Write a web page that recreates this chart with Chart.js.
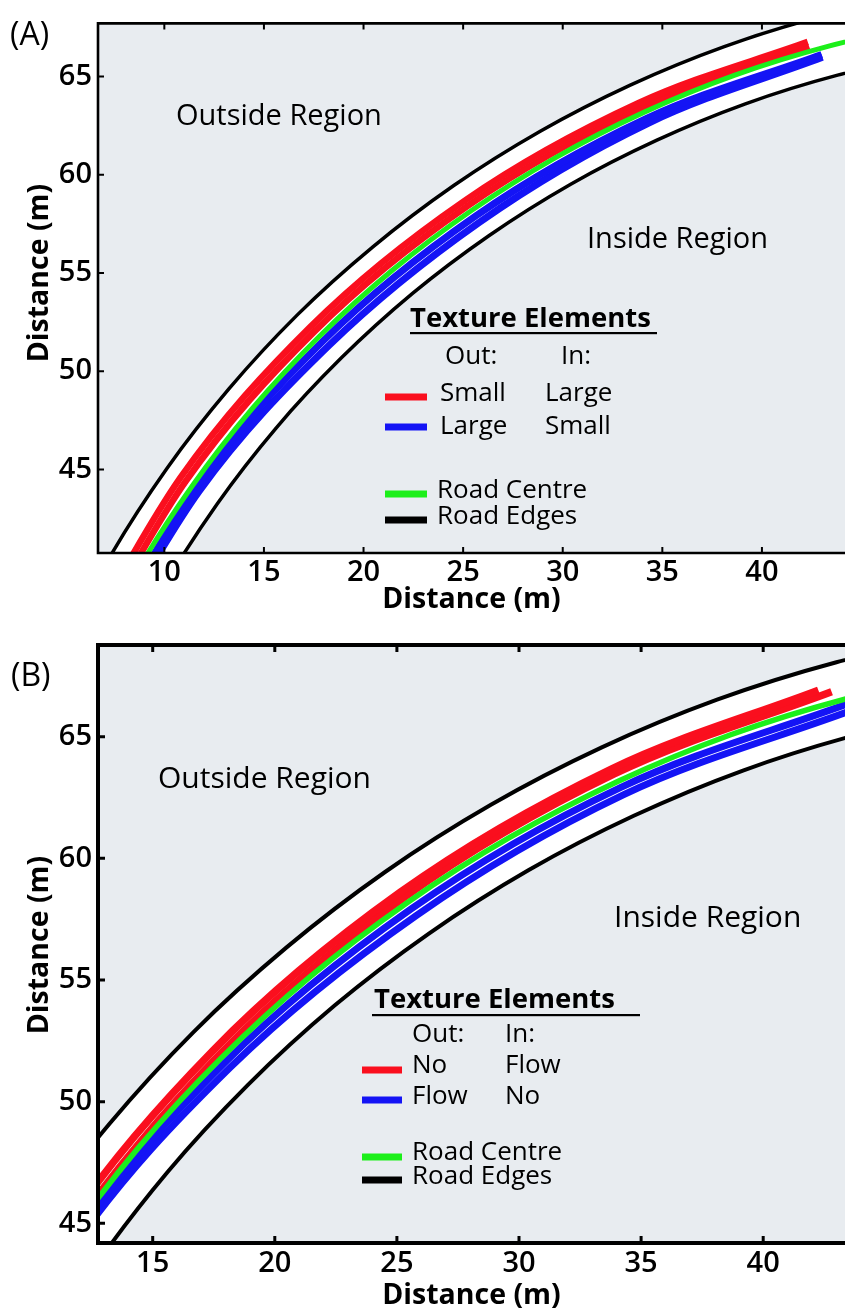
<!DOCTYPE html>
<html>
<head>
<meta charset="utf-8">
<title>Road trajectories</title>
<script src="https://cdn.jsdelivr.net/npm/chart.js@4.4.0/dist/chart.umd.min.js"></script>
<style>
  html, body { margin: 0; padding: 0; background: #ffffff; }
  body { width: 845px; height: 1312px; position: relative; overflow: hidden; }
  .panel { position: absolute; left: 0; width: 845px; }
  #panelA { top: 0; height: 620px; }
  #panelB { top: 620px; height: 692px; }
  canvas { display: block; }
</style>
</head>
<body>
<div class="panel" id="panelA"><canvas id="chartA" width="845" height="620"></canvas></div>
<div class="panel" id="panelB"><canvas id="chartB" width="845" height="692"></canvas></div>
<script>
// ---- Road geometry (m), shared by both panels ----
const roadOuter  = [[5.01,36.19],[7.37,40.73],[10.12,45.04],[13.24,49.10],[16.69,52.88],[20.47,56.33],[24.53,59.45],[28.85,62.20],[33.39,64.56],[38.11,66.52],[43.00,68.06],[47.99,69.17]];
const roadInner  = [[7.82,34.88],[10.06,39.18],[12.66,43.26],[15.61,47.11],[18.89,50.68],[22.46,53.96],[26.31,56.91],[30.40,59.52],[34.70,61.75],[39.17,63.61],[43.80,65.07],[48.53,66.12]];
const roadCentre = [[6.41,35.53],[8.71,39.95],[11.39,44.15],[14.42,48.11],[17.79,51.78],[21.46,55.15],[25.42,58.18],[29.62,60.86],[34.04,63.16],[38.64,65.07],[43.40,66.56],[48.26,67.64]];

// ---- Panel A: texture element size ----
const smallOutA1 = [[5.70,35.86],[10.80,44.57],[17.32,52.25],[25.07,58.67],[33.81,63.65],[42.30,66.76]];
const smallOutA2 = [[5.99,35.72],[11.06,44.38],[17.54,52.03],[25.25,58.43],[33.93,63.39],[42.38,66.50]];
const largeOutA1 = [[6.54,35.47],[11.55,44.04],[18.00,51.57],[25.62,57.89],[34.18,62.85],[43.00,66.12]];
const largeOutA2 = [[6.65,35.42],[11.75,43.90],[18.26,51.31],[25.83,57.59],[34.29,62.62],[43.04,65.98]];

// ---- Panel B: texture element flow ----
const noFlowOutB1 = [[6.10,35.67],[11.08,44.37],[17.47,52.10],[25.13,58.60],[33.80,63.68],[42.26,66.91]];
const noFlowOutB2 = [[6.39,35.54],[11.35,44.18],[17.69,51.88],[25.28,58.38],[33.90,63.47],[42.80,66.85]];
const flowOutB1   = [[6.52,35.48],[11.51,44.07],[17.96,51.61],[25.60,57.93],[34.15,62.91],[43.45,66.35]];
const flowOutB2   = [[6.68,35.40],[11.69,43.95],[18.17,51.40],[25.79,57.65],[34.29,62.62],[43.53,66.05]];

// ---- Axis ranges and ticks ----
const xRangeA = [6.67, 44.17];
const yRangeA = [40.75, 67.70];
const xRangeB = [12.76, 43.35];
const yRangeB = [44.19, 68.77];
const xTicksA = [10, 15, 20, 25, 30, 35, 40];
const yTicksA = [45, 50, 55, 60, 65];
const xTicksB = [15, 20, 25, 30, 35, 40];
const yTicksB = [45, 50, 55, 60, 65];

// ---- Legend / annotation text ----
const legendTitle = 'Texture Elements';
const legendHeads = ['Out:', 'In:'];
const legendOutA = ['Small', 'Large'];
const legendInA  = ['Large', 'Small'];
const legendOutB = ['No', 'Flow'];
const legendInB  = ['Flow', 'No'];
const roadLabels = ['Road Centre', 'Road Edges'];
const regionLabels = ['Outside Region', 'Inside Region'];
const axisTitle = 'Distance (m)';

const COLORS = { red: '#fa0f1e', blue: '#1414f5', green: '#1cef1a', black: '#000000', road: '#ffffff', plot: '#e8ecf0' };
const FONT = '"Open Sans", "Noto Sans", sans-serif';

const pts = arr => arr.map(([x, y]) => ({ x, y }));

function lineSet(data, color, width, order) {
  return {
    data: pts(data), borderColor: color, borderWidth: width, backgroundColor: color,
    pointRadius: 0, pointHoverRadius: 0, fill: false, cubicInterpolationMode: 'monotone',
    clip: 0, order: order
  };
}

function roadSurface(order) {
  return {
    data: pts(roadOuter.concat(roadInner.slice().reverse())),
    borderWidth: 0, borderColor: 'rgba(0,0,0,0)', backgroundColor: COLORS.road,
    fill: 'shape', tension: 0, pointRadius: 0, pointHoverRadius: 0, clip: 0, order: order
  };
}

// plot background
const plotBackground = {
  id: 'plotBackground',
  beforeDatasetsDraw(chart) {
    const { ctx, chartArea: a } = chart;
    ctx.save();
    ctx.fillStyle = COLORS.plot;
    ctx.fillRect(a.left, a.top, a.right - a.left, a.bottom - a.top);
    ctx.restore();
  }
};

// axis frame (left, bottom, top) with inward tick marks
const axisFrame = {
  id: 'axisFrame',
  afterDatasetsDraw(chart, args, o) {
    const { ctx, chartArea: a, scales: { x, y } } = chart;
    ctx.save();
    ctx.strokeStyle = '#000';
    ctx.lineWidth = o.width;
    ctx.lineJoin = 'miter';
    ctx.beginPath();
    ctx.moveTo(a.right + 10, a.top);
    ctx.lineTo(a.left, a.top);
    ctx.lineTo(a.left, a.bottom);
    ctx.lineTo(a.right + 10, a.bottom);
    ctx.stroke();
    ctx.lineWidth = o.tickWidth;
    ctx.beginPath();
    x.ticks.forEach(t => {
      const px = x.getPixelForValue(t.value);
      ctx.moveTo(px, a.bottom); ctx.lineTo(px, a.bottom - o.tickLen);
      ctx.moveTo(px, a.top); ctx.lineTo(px, a.top + o.tickLen);
    });
    y.ticks.forEach(t => {
      const py = y.getPixelForValue(t.value);
      ctx.moveTo(a.left, py); ctx.lineTo(a.left + o.tickLen, py);
    });
    ctx.stroke();
    ctx.restore();
  }
};

// panel letter, y-axis title, region labels and the texture legend
const annotations = {
  id: 'annotations',
  afterDraw(chart, args, o) {
    const { ctx } = chart;
    ctx.save();
    ctx.fillStyle = '#000';

    // vertical axis title
    ctx.save();
    ctx.translate(o.yTitle.x, o.yTitle.y);
    ctx.rotate(-Math.PI / 2);
    ctx.textAlign = 'center';
    ctx.textBaseline = 'middle';
    ctx.font = `700 ${o.yTitle.size}px ${FONT}`;
    ctx.fillText(axisTitle, 0, 0);
    ctx.restore();

    ctx.textAlign = 'left';
    ctx.textBaseline = 'alphabetic';
    ctx.font = `500 ${o.letter.size}px ${FONT}`;
    ctx.fillText(o.letter.text, o.letter.x, o.letter.y);
    ctx.font = `500 ${o.size}px ${FONT}`;
    o.regions.forEach(r => ctx.fillText(r.text, r.x, r.y));

    const L = o.legend;
    ctx.font = `700 ${L.titleSize}px ${FONT}`;
    ctx.fillText(legendTitle, L.titleX, L.titleY);
    ctx.fillRect(L.ulX0, L.ulY - 1, L.ulX1 - L.ulX0, 2.2);
    ctx.font = `500 ${L.size}px ${FONT}`;
    ctx.fillText(legendHeads[0], L.outX, L.headY);
    ctx.fillText(legendHeads[1], L.inX, L.headY);
    L.rows.forEach(r => {
      ctx.fillStyle = r.color;
      ctx.fillRect(L.swX0, r.swY - L.swH / 2, L.swX1 - L.swX0, L.swH);
      ctx.fillStyle = '#000';
      if (r.label) {
        ctx.fillText(r.label, L.roadX, r.textY);
      } else {
        ctx.fillText(r.out, L.colOutX, r.textY);
        ctx.fillText(r.inn, L.colInX, r.textY);
      }
    });
    ctx.restore();
  }
};

function scaleOptions(range, ticks, opts) {
  return {
    type: 'linear', min: range[0], max: range[1],
    afterBuildTicks: s => { s.ticks = ticks.map(v => ({ value: v })); },
    afterFit: opts.fit,
    ticks: { color: '#000', font: { family: FONT, size: opts.tickSize, weight: '600' }, padding: opts.tickPad, autoSkip: false, maxRotation: 0, includeBounds: false },
    grid: { display: false, drawTicks: false },
    border: { display: false },
    title: opts.title
      ? { display: true, text: axisTitle, color: '#000', font: { family: FONT, size: opts.titleSize, weight: '700', lineHeight: 1 }, padding: opts.titlePad }
      : { display: false }
  };
}

function makeChart(id, cfg) {
  return new Chart(document.getElementById(id), {
    type: 'line',
    data: { datasets: cfg.datasets },
    plugins: [plotBackground, axisFrame, annotations],
    options: {
      responsive: false, animation: false, events: [],
      layout: { padding: { top: cfg.top, left: 0, right: 0, bottom: 0 } },
      scales: {
        x: scaleOptions(cfg.xRange, cfg.xTicks, { title: true, fit: s => { s.height = cfg.xAxisHeight; }, tickSize: cfg.tickSize, tickPad: cfg.xTickPad, titleSize: cfg.titleSize, titlePad: { top: 0, bottom: cfg.xTitlePad } }),
        y: scaleOptions(cfg.yRange, cfg.yTicks, { title: false, fit: s => { s.width = 98; }, tickSize: cfg.tickSize, tickPad: 6 })
      },
      plugins: {
        legend: { display: false }, tooltip: { enabled: false },
        axisFrame: cfg.frame,
        annotations: cfg.notes
      }
    }
  });
}

// ---- Panel A ----
makeChart('chartA', {
  top: 14, xAxisHeight: 67, xRange: xRangeA, yRange: yRangeA, xTicks: xTicksA, yTicks: yTicksA,
  tickSize: 29, xTickPad: 2, titleSize: 28.5, xTitlePad: 6,
  frame: { width: 2.6, tickWidth: 2, tickLen: 6 },
  datasets: [
    roadSurface(20),
    lineSet(roadOuter, COLORS.black, 3.5, 10),
    lineSet(roadInner, COLORS.black, 3.5, 10),
    lineSet(largeOutA1, COLORS.blue, 7, 8),
    lineSet(largeOutA2, COLORS.blue, 7, 8),
    lineSet(smallOutA1, COLORS.red, 6.5, 6),
    lineSet(smallOutA2, COLORS.red, 6.5, 6),
    lineSet(roadCentre, COLORS.green, 5, 1)
  ],
  notes: {
    size: 29,
    yTitle: { x: 40, y: 273, size: 28.5 },
    letter: { text: '(A)', size: 32, x: 10, y: 45 },
    regions: [ { text: regionLabels[0], x: 176, y: 125 }, { text: regionLabels[1], x: 587, y: 248 } ],
    legend: {
      titleSize: 27.5, titleX: 410, titleY: 327, ulX0: 410, ulX1: 657, ulY: 333,
      size: 26, outX: 445, inX: 561, headY: 364,
      swX0: 385, swX1: 427, swH: 7, colOutX: 440, colInX: 545, roadX: 437,
      rows: [
        { color: COLORS.red, swY: 397, textY: 401, out: legendOutA[0], inn: legendInA[0] },
        { color: COLORS.blue, swY: 427, textY: 434, out: legendOutA[1], inn: legendInA[1] },
        { color: COLORS.green, swY: 494, textY: 498, label: roadLabels[0] },
        { color: COLORS.black, swY: 520, textY: 524, label: roadLabels[1] }
      ]
    }
  }
});

// ---- Panel B ----
makeChart('chartB', {
  top: 25, xAxisHeight: 69, xRange: xRangeB, yRange: yRangeB, xTicks: xTicksB, yTicks: yTicksB,
  tickSize: 29, xTickPad: 3, titleSize: 28.5, xTitlePad: 2,
  frame: { width: 4, tickWidth: 3, tickLen: 7 },
  datasets: [
    roadSurface(20),
    lineSet(roadOuter, COLORS.black, 4, 10),
    lineSet(roadInner, COLORS.black, 4, 10),
    lineSet(flowOutB1, COLORS.blue, 7, 8),
    lineSet(flowOutB2, COLORS.blue, 7, 8),
    lineSet(noFlowOutB1, COLORS.red, 7.5, 6),
    lineSet(noFlowOutB2, COLORS.red, 7.5, 6),
    lineSet(roadCentre, COLORS.green, 5.5, 1)
  ],
  notes: {
    size: 30,
    yTitle: { x: 40, y: 325, size: 28.5 },
    letter: { text: '(B)', size: 32, x: 11, y: 66 },
    regions: [ { text: regionLabels[0], x: 158, y: 168 }, { text: regionLabels[1], x: 614, y: 307 } ],
    legend: {
      titleSize: 27.5, titleX: 374, titleY: 388, ulX0: 372, ulX1: 640, ulY: 395,
      size: 26, outX: 412, inX: 505, headY: 422,
      swX0: 362, swX1: 402, swH: 7, colOutX: 412, colInX: 505, roadX: 412,
      rows: [
        { color: COLORS.red, swY: 450, textY: 453, out: legendOutB[0], inn: legendInB[0] },
        { color: COLORS.blue, swY: 480, textY: 484, out: legendOutB[1], inn: legendInB[1] },
        { color: COLORS.green, swY: 537, textY: 540, label: roadLabels[0] },
        { color: COLORS.black, swY: 560, textY: 564, label: roadLabels[1] }
      ]
    }
  }
});
</script>
</body>
</html>
